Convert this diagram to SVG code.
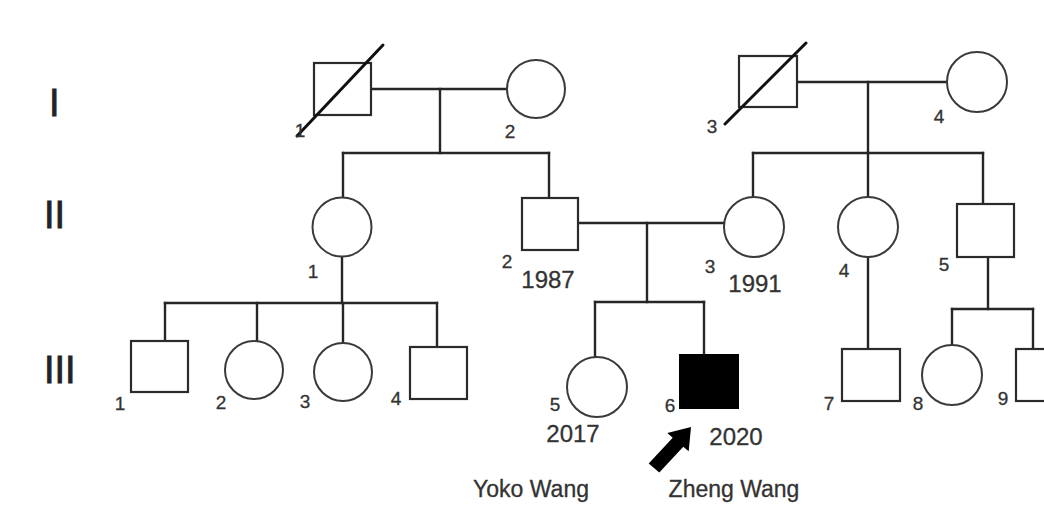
<svg xmlns="http://www.w3.org/2000/svg" width="1044" height="509" viewBox="0 0 1044 509">
  <style>
    .m { fill: #ffffff; stroke: #2b2b2b; stroke-width: 2.2; }
    .f { fill: #ffffff; stroke: #3a3a3a; stroke-width: 2; }
    .affected { fill: #000000; stroke: #000000; stroke-width: 2; }
    .line { stroke: #262626; stroke-width: 2.4; fill: none; stroke-linecap: square; }
    .dead { stroke: #111111; stroke-width: 3; stroke-linecap: round; }
    text { font-family: "Liberation Sans", Arial, sans-serif; fill: #333333; }
    .num { font-size: 19px; text-anchor: middle; stroke: #333333; stroke-width: 0.3; }
    .year { font-size: 24px; text-anchor: middle; stroke: #333333; stroke-width: 0.3; }
    .name { font-size: 23px; text-anchor: middle; stroke: #333333; stroke-width: 0.3; }
    .gen { font-size: 38px; fill: #222222; stroke: #222222; stroke-width: 0.8; }
  </style>

  <rect x="0" y="0" width="1044" height="509" fill="#ffffff"/>

  <!-- generation numerals -->
  <g id="generations">
    <text class="gen" x="49" y="116">I</text>
    <text class="gen" x="44" y="228">II</text>
    <text class="gen" x="44" y="383">III</text>
  </g>

  <!-- lines of descent and marriage -->
  <g id="connectors">
    <!-- I-1 x I-2 -->
    <line class="line" x1="371" y1="89" x2="507" y2="89"/>
    <line class="line" x1="440" y1="89" x2="440" y2="153"/>
    <line class="line" x1="343" y1="153" x2="549" y2="153"/>
    <line class="line" x1="343" y1="153" x2="343" y2="198"/>
    <line class="line" x1="549" y1="153" x2="549" y2="198"/>
    <!-- I-3 x I-4 -->
    <line class="line" x1="797" y1="82" x2="947" y2="82"/>
    <line class="line" x1="868" y1="82" x2="868" y2="153"/>
    <line class="line" x1="753" y1="153" x2="983" y2="153"/>
    <line class="line" x1="753" y1="153" x2="753" y2="197"/>
    <line class="line" x1="868" y1="153" x2="868" y2="197"/>
    <line class="line" x1="983" y1="153" x2="983" y2="204"/>
    <!-- II-2 x II-3 -->
    <line class="line" x1="578" y1="223" x2="724" y2="223"/>
    <line class="line" x1="647" y1="223" x2="647" y2="302"/>
    <line class="line" x1="595" y1="302" x2="704" y2="302"/>
    <line class="line" x1="595" y1="302" x2="595" y2="357"/>
    <line class="line" x1="704" y1="302" x2="704" y2="355"/>
    <!-- II-1 children -->
    <line class="line" x1="342" y1="257" x2="342" y2="303"/>
    <line class="line" x1="165" y1="303" x2="437" y2="303"/>
    <line class="line" x1="165" y1="303" x2="165" y2="341"/>
    <line class="line" x1="257" y1="303" x2="257" y2="341"/>
    <line class="line" x1="343" y1="303" x2="343" y2="343"/>
    <line class="line" x1="437" y1="303" x2="437" y2="347"/>
    <!-- II-4 child -->
    <line class="line" x1="868" y1="257" x2="868" y2="349"/>
    <!-- II-5 children -->
    <line class="line" x1="988" y1="257" x2="988" y2="309"/>
    <line class="line" x1="952" y1="309" x2="1033" y2="309"/>
    <line class="line" x1="952" y1="309" x2="952" y2="345"/>
    <line class="line" x1="1033" y1="309" x2="1033" y2="349"/>
  </g>

  <!-- generation I -->
  <g id="I-1">
    <rect class="m" x="314" y="63" width="57" height="52"/>
    <line class="dead" x1="297" y1="136" x2="383" y2="45"/>
    <text class="num" x="300" y="137">1</text>
  </g>
  <g id="I-2">
    <circle class="f" cx="536" cy="89" r="29"/>
    <text class="num" x="510" y="138">2</text>
  </g>
  <g id="I-3">
    <rect class="m" x="739" y="56" width="58" height="51"/>
    <line class="dead" x1="725" y1="124" x2="806" y2="43"/>
    <text class="num" x="712" y="133">3</text>
  </g>
  <g id="I-4">
    <circle class="f" cx="977" cy="82" r="30"/>
    <text class="num" x="939" y="123">4</text>
  </g>

  <!-- generation II -->
  <g id="II-1">
    <circle class="f" cx="342" cy="227" r="29.5"/>
    <text class="num" x="313" y="278">1</text>
  </g>
  <g id="II-2">
    <rect class="m" x="522" y="198" width="56" height="52"/>
    <text class="num" x="507" y="268">2</text>
    <text class="year" x="548" y="288">1987</text>
  </g>
  <g id="II-3">
    <circle class="f" cx="754" cy="227" r="30"/>
    <text class="num" x="710" y="273">3</text>
    <text class="year" x="755" y="292">1991</text>
  </g>
  <g id="II-4">
    <circle class="f" cx="868" cy="227" r="30"/>
    <text class="num" x="844" y="277">4</text>
  </g>
  <g id="II-5">
    <rect class="m" x="957" y="204" width="57" height="53"/>
    <text class="num" x="944" y="271">5</text>
  </g>

  <!-- generation III -->
  <g id="III-1">
    <rect class="m" x="131" y="341" width="57" height="51"/>
    <text class="num" x="120" y="410">1</text>
  </g>
  <g id="III-2">
    <circle class="f" cx="254" cy="370" r="29"/>
    <text class="num" x="221" y="409">2</text>
  </g>
  <g id="III-3">
    <circle class="f" cx="343" cy="372" r="29"/>
    <text class="num" x="305" y="408">3</text>
  </g>
  <g id="III-4">
    <rect class="m" x="410" y="347" width="57" height="52"/>
    <text class="num" x="396" y="405">4</text>
  </g>
  <g id="III-5">
    <circle class="f" cx="597" cy="387" r="30"/>
    <text class="num" x="555" y="411">5</text>
    <text class="year" x="573" y="442">2017</text>
    <text class="name" x="531" y="497">Yoko Wang</text>
  </g>
  <g id="III-6">
    <rect class="affected" x="680" y="355" width="58" height="53"/>
    <text class="num" x="670" y="412">6</text>
    <text class="year" x="736" y="445">2020</text>
    <text class="name" x="734" y="497">Zheng Wang</text>
    <!-- proband arrow -->
    <polygon fill="#000000" points="648.7,463.5 672.7,437.7 667.3,433.1 691,427 688.7,451.3 683.3,446.7 659.3,472.5"/>
  </g>
  <g id="III-7">
    <rect class="m" x="842" y="349" width="58" height="52"/>
    <text class="num" x="829" y="410">7</text>
  </g>
  <g id="III-8">
    <circle class="f" cx="952" cy="375" r="30"/>
    <text class="num" x="918" y="410">8</text>
  </g>
  <g id="III-9">
    <rect class="m" x="1016" y="349" width="57" height="52"/>
    <text class="num" x="1003" y="405">9</text>
  </g>
</svg>
